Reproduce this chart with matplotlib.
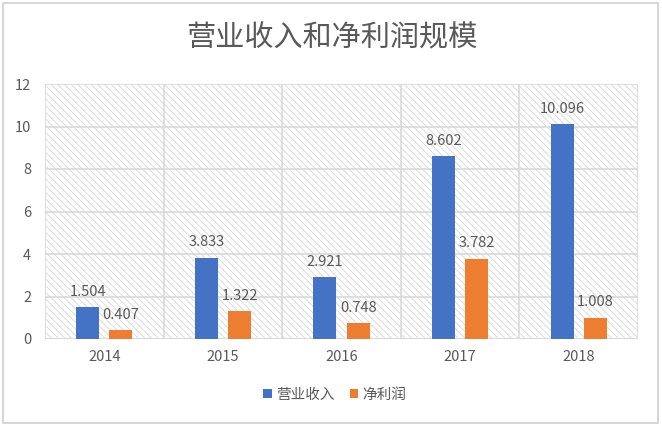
import matplotlib
matplotlib.use("Agg")
import matplotlib.pyplot as plt
from matplotlib.patches import Rectangle
import numpy as np

plt.rcParams['font.family'] = ['Noto Sans CJK SC', 'DejaVu Sans']
plt.rcParams['hatch.linewidth'] = 0.6

years = ['2014', '2015', '2016', '2017', '2018']
revenue = [1.504, 3.833, 2.921, 8.602, 10.096]
profit = [0.407, 1.322, 0.748, 3.782, 1.008]
series_names = ['营业收入', '净利润']
title = '营业收入和净利润规模'
yticks = [0, 2, 4, 6, 8, 10, 12]

blue = '#4472C4'
orange = '#ED7D31'
grid_c = '#D9D9D9'
text_c = '#595959'

fig = plt.figure(figsize=(6.62, 4.29), dpi=100)
fig.patches.append(Rectangle((3/662, 6/429), 655/662, 420/429, transform=fig.transFigure,
                             facecolor='none', edgecolor='#D0D0D0', linewidth=1.2, zorder=5))
ax = fig.add_axes([45/662, 90/429, 593/662, 255/429])
ax.set_facecolor('none')
ax.add_patch(Rectangle((0, 0), 1, 1, transform=ax.transAxes, facecolor='white',
                       edgecolor='#D6D6D6', linewidth=0, hatch='\\\\\\\\\\', zorder=0))

x = np.arange(len(years))
w = 0.194
off = 0.14
b1 = ax.bar(x - off, revenue, w, color=blue, zorder=3, label=series_names[0])
b2 = ax.bar(x + off, profit, w, color=orange, zorder=3, label=series_names[1])
for bars, vals in ((b1, revenue), (b2, profit)):
    for r, v in zip(bars, vals):
        ax.annotate(f'{v:.3f}', (r.get_x() + r.get_width() / 2, v), xytext=(0, 6),
                    textcoords='offset points', ha='center', va='bottom',
                    fontsize=10.5, color=text_c, zorder=4)

ax.set_xlim(-0.5, len(years) - 0.5)
ax.set_ylim(0, 12)
ax.set_yticks(yticks)
ax.set_xticks(x)
ax.set_xticklabels(years)
for yt in yticks[1:]:
    ax.axhline(yt, color=grid_c, linewidth=1.2, zorder=1)
for xb in np.arange(-0.5, len(years), 1.0):
    ax.axvline(xb, color=grid_c, linewidth=1.2, zorder=1)
ax.axhline(0, color=grid_c, linewidth=1.4, zorder=2)
for s in ax.spines.values():
    s.set_visible(False)
ax.tick_params(length=0, labelsize=10.5, labelcolor=text_c)
ax.tick_params(axis='y', pad=10)
ax.tick_params(axis='x', pad=8)

fig.text(332/662, 1 - 38/429, title, ha='center', va='center', fontsize=21, color=text_c)

leg = fig.legend(handles=[b1, b2], labels=series_names, loc='center', bbox_to_anchor=(335/662, 1 - 395/429),
                 ncol=2, frameon=False, fontsize=10.5, handlelength=0.6, handleheight=0.6,
                 handletextpad=0.3, columnspacing=1.0, labelcolor=text_c)

fig.savefig('out.png', dpi=100)
